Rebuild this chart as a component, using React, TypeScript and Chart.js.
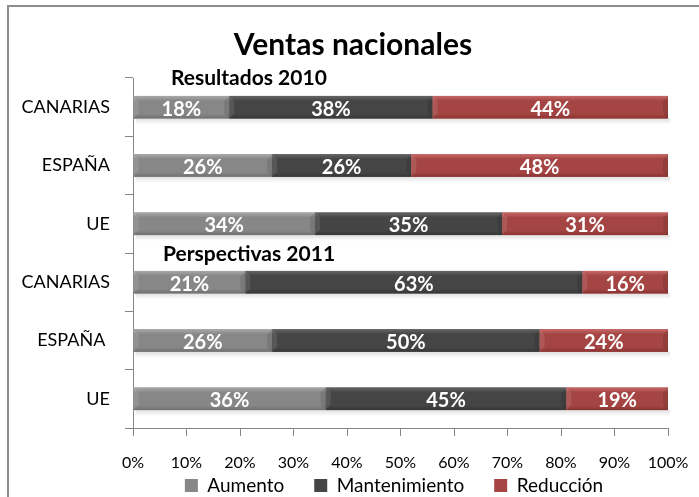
import React, { useEffect, useRef } from "react";
import { Chart, registerables } from "chart.js";

Chart.register(...registerables);

const categories = ["CANARIAS", "ESPAÑA", "UE", "CANARIAS", "ESPAÑA ", "UE"];
const aumento = [18, 26, 34, 21, 26, 36];
const mantenimiento = [38, 26, 35, 63, 50, 45];
const reduccion = [44, 48, 31, 16, 24, 19];
const seriesNames = ["Aumento", "Mantenimiento", "Reducción"];
const groupLabels = ["Resultados 2010", "Perspectivas 2011"];
const titleText = "Ventas nacionales";

const FONT = "Lato, 'Liberation Sans', sans-serif";
const baseColors = ["#878787", "#454545", "#a44543"];
const lightColors = ["#a9a9a9", "#656565", "#c66866"];
const darkColors = ["#707070", "#363636", "#8a3331"];

const framePlugin = {
  id: "frame",
  beforeDraw(chart: any) {
    const { ctx, width, height } = chart;
    ctx.save();
    ctx.fillStyle = "#ffffff";
    ctx.fillRect(0, 0, width, height);
    ctx.strokeStyle = "#8c8c8c";
    ctx.lineWidth = 2;
    ctx.beginPath();
    ctx.moveTo(8, height);
    ctx.lineTo(8, 6);
    ctx.lineTo(width, 6);
    ctx.stroke();
    ctx.restore();
  },
};

const shiftPlugin = {
  id: "shift",
  afterLayout(chart: any) {
    const lg = chart.legend;
    if (lg) {
      lg.left += 60;
      lg.right += 60;
      lg.top -= 12;
      lg.bottom = chart.height;
      lg.height = lg.bottom - lg.top;
    }
    const tb = chart.titleBlock;
    if (tb) {
      tb.left += 19;
      tb.right += 19;
    }
    const xs = chart.scales.x;
    if (xs) {
      xs.bottom = xs.top + 60;
      xs.height = 60;
    }
  },
};

const barDecorPlugin = {
  id: "barDecor",
  beforeDatasetsDraw(chart: any) {
    const { ctx } = chart;
    const first = chart.getDatasetMeta(0);
    const last = chart.getDatasetMeta(chart.data.datasets.length - 1);
    ctx.save();
    first.data.forEach((el: any, i: number) => {
      const l = last.data[i];
      const x0 = Math.min(el.base, el.x);
      const x1 = Math.max(l.x, l.base);
      const yb = el.y + el.height / 2;
      const g = ctx.createLinearGradient(0, yb, 0, yb + 6);
      g.addColorStop(0, "rgba(0,0,0,0.12)");
      g.addColorStop(1, "rgba(0,0,0,0)");
      ctx.fillStyle = g;
      ctx.fillRect(x0 + 2, yb, x1 - x0, 6);
    });
    ctx.restore();
  },
  afterDatasetsDraw(chart: any) {
    const { ctx } = chart;
    ctx.save();
    chart.data.datasets.forEach((ds: any, di: number) => {
      const meta = chart.getDatasetMeta(di);
      meta.data.forEach((el: any) => {
        const x0 = Math.min(el.base, el.x);
        const x1 = Math.max(el.base, el.x);
        const h = el.height;
        const top = el.y - h / 2;
        const g = ctx.createLinearGradient(0, top, 0, top + h);
        g.addColorStop(0, lightColors[di]);
        g.addColorStop(0.22, baseColors[di]);
        g.addColorStop(0.8, baseColors[di]);
        g.addColorStop(1, darkColors[di]);
        ctx.fillStyle = g;
        ctx.fillRect(x0, top, x1 - x0, h);
        const b = Math.min(5, (x1 - x0) / 3);
        ctx.fillStyle = "rgba(255,255,255,0.10)";
        ctx.beginPath();
        ctx.moveTo(x0, top);
        ctx.lineTo(x0 + b, top + b);
        ctx.lineTo(x0 + b, top + h - b);
        ctx.lineTo(x0, top + h);
        ctx.closePath();
        ctx.fill();
        ctx.fillStyle = "rgba(0,0,0,0.10)";
        ctx.beginPath();
        ctx.moveTo(x1, top);
        ctx.lineTo(x1 - b, top + b);
        ctx.lineTo(x1 - b, top + h - b);
        ctx.lineTo(x1, top + h);
        ctx.closePath();
        ctx.fill();
      });
    });
    chart.data.datasets.forEach((ds: any, di: number) => {
      const meta = chart.getDatasetMeta(di);
      meta.data.forEach((el: any, i: number) => {
        const cx = (el.base + el.x) / 2;
        ctx.fillStyle = "#ffffff";
        ctx.font = "bold 20px " + FONT;
        ctx.textAlign = "center";
        ctx.textBaseline = "middle";
        ctx.fillText(ds.data[i] + "%", cx, el.y + 2);
      });
    });
    const ys = chart.scales.y;
    const xa = chart.chartArea;
    ctx.fillStyle = "#000000";
    ctx.font = "bold 21px " + FONT;
    ctx.textAlign = "left";
    ctx.textBaseline = "middle";
    const step = ys.getPixelForValue(1) - ys.getPixelForValue(0);
    ctx.fillText(groupLabels[0], xa.left + 38, ys.getPixelForValue(0) - step / 2);
    ctx.fillText(groupLabels[1], xa.left + 30, ys.getPixelForValue(2) + step / 2 + 1);
    ctx.restore();
  },
};

export default function App() {
  const ref = useRef<HTMLCanvasElement | null>(null);
  useEffect(() => {
    if (!ref.current) return;
    const series = [aumento, mantenimiento, reduccion];
    const chart = new Chart(ref.current, {
      type: "bar",
      data: {
        labels: categories,
        datasets: series.map((d, i) => ({
          label: seriesNames[i],
          data: d,
          backgroundColor: baseColors[i],
          borderColor: darkColors[i],
          borderWidth: 0,
          barPercentage: 0.9,
          categoryPercentage: 0.43,
        })),
      },
      options: {
        indexAxis: "y",
        responsive: false,
        animation: false,
        layout: { padding: { left: 0, right: 31, top: 0, bottom: 0 } },
        scales: {
          x: {
            stacked: true,
            min: 0,
            max: 100,
            ticks: {
              stepSize: 10,
              color: "#000000",
              font: { family: FONT, size: 16 },
              padding: 17,
              callback: (v: any) => v + "%",
            },
            grid: { drawOnChartArea: false, drawTicks: true, tickLength: 8, color: "#868686" },
            border: { color: "#868686", width: 1 },
            afterFit: (s: any) => {
              s.height = 30;
              s.paddingLeft = 0;
              s.paddingRight = 0;
            },
          },
          y: {
            stacked: true,
            ticks: { color: "#000000", font: { family: FONT, size: 18 }, padding: 15 },
            grid: { drawOnChartArea: false, drawTicks: true, tickLength: 8, color: "#868686" },
            border: { color: "#868686", width: 1 },
            afterFit: (s: any) => {
              s.width = 133;
            },
          },
        },
        plugins: {
          title: {
            display: true,
            text: titleText,
            color: "#000000",
            font: { family: FONT, size: 30, weight: "bold" },
            padding: { top: 27, bottom: 15 },
          },
          legend: {
            display: true,
            position: "bottom",
            maxHeight: 39,
            labels: {
              color: "#000000",
              font: { family: FONT, size: 19 },
              boxWidth: 13,
              boxHeight: 13,
              padding: 30,
            },
          },
          tooltip: { enabled: false },
        },
      },
      plugins: [framePlugin, shiftPlugin, barDecorPlugin],
    } as any);
    return () => chart.destroy();
  }, []);
  return (
    <div style={{ position: "absolute", left: 0, top: 0, width: 699, height: 497 }}>
      <canvas ref={ref} width={699} height={497} />
    </div>
  );
}
